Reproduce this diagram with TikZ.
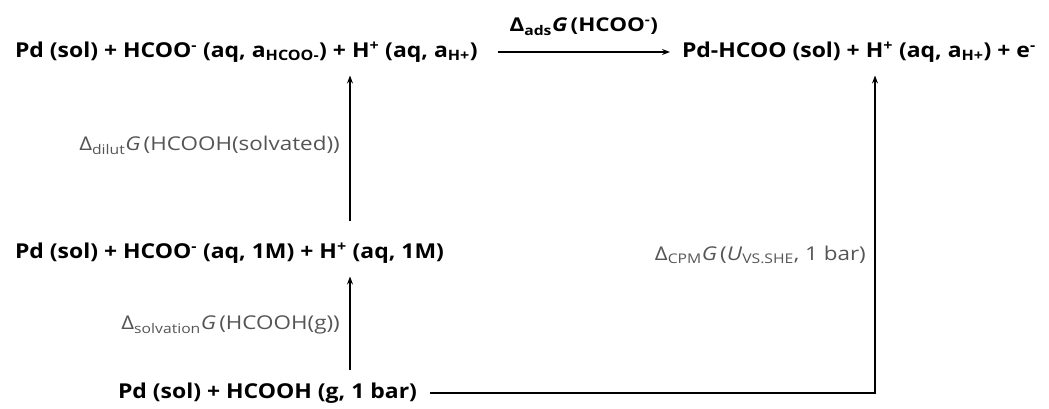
\documentclass[tikz,border=0pt]{standalone}
\usepackage{fontspec}
\setmainfont{Open Sans}
\newfontfamily\speciesfont[FakeStretch=1.12]{Open Sans}
\newfontfamily\gibbsfont[FakeStretch=1.18]{Open Sans}
\usetikzlibrary{arrows.meta, positioning}

\definecolor{lblgray}{RGB}{85,85,85}
\newcommand{\dG}[1]{Δ\textsubscript{#1}\textit{G}\,}

\begin{document}
\begin{tikzpicture}[x=1pt, y=1pt,
  species/.style={font=\speciesfont\fontsize{20.5}{24}\selectfont\bfseries, inner sep=0pt, outer xsep=0pt, outer ysep=13pt, anchor=west},
  gibbs/.style={font=\gibbsfont\fontsize{19}{22}\selectfont, text=lblgray, inner sep=0pt},
  link/.style={black, line width=1.1pt, ->, >=Stealth}]
\useasboundingbox (0,0) rectangle (1049,409);

% species
\node [species] (topL) at (15,357)  {Pd (sol) + HCOO\textsuperscript{-} (aq, a\textsubscript{HCOO-}) + H\textsuperscript{+} (aq, a\textsubscript{H+})};
\node [species] (topR) at (682,357) {Pd-HCOO (sol) + H\textsuperscript{+} (aq, a\textsubscript{H+}) + e\textsuperscript{-}};
\node [species] (mid)  at (15,156)  {Pd (sol) + HCOO\textsuperscript{-} (aq, 1M) + H\textsuperscript{+} (aq, 1M)};
\node [species] (bot)  at (118,16)  {Pd (sol) + HCOOH (g, 1 bar)};

\coordinate (xa) at (350,0);
\coordinate (xb) at (875,0);

% connectors
\draw [link] ([xshift=20pt]topL.east |- topL.center) -- ([xshift=-12pt]topR.west)
  node [midway, above=16pt, font=\gibbsfont\fontsize{19}{22}\selectfont\bfseries, inner sep=0pt] (gads) {\dG{ads}(HCOO\textsuperscript{-})};
\draw [link] ([yshift=8pt]mid.north -| xa) -- (topL.south -| xa);
\draw [link] (bot.north -| xa) -- (mid.south -| xa);
\draw [link] ([xshift=13pt]bot.east) -- (bot.east -| xb) -- (topR.south -| xb);

% labels
\node [gibbs, anchor=east] (gdilut) at (340,264) {\dG{dilut}(HCOOH(solvated))};
\node [gibbs, anchor=east] (gsolv)  at (340,84)  {\dG{solvation}(HCOOH(g))};
\node [gibbs, anchor=east] (gcpm)   at (866,154) {\dG{CPM}(\textit{U}\textsubscript{VS.SHE}, 1 bar)};
\end{tikzpicture}
\end{document}
